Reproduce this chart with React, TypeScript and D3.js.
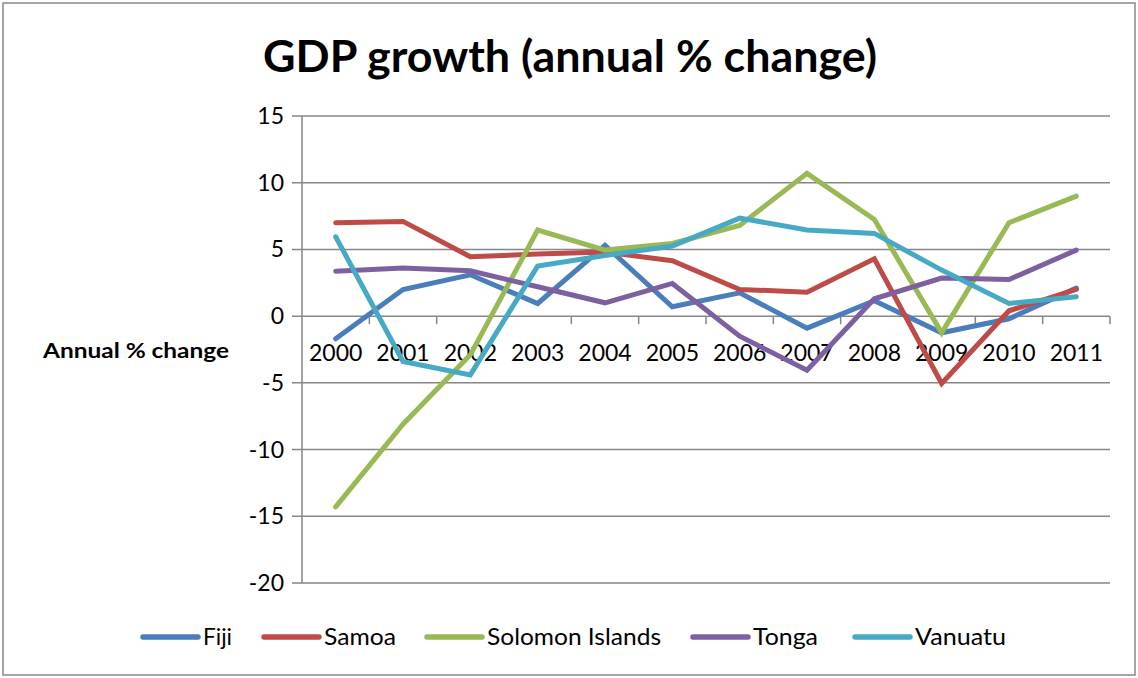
import React from "react";
import * as d3 from "d3";

const years = ["2000","2001","2002","2003","2004","2005","2006","2007","2008","2009","2010","2011"];
const fiji = [-1.7, 2.0, 3.1, 0.95, 5.3, 0.7, 1.75, -0.9, 1.15, -1.25, -0.2, 2.1];
const samoa = [7.0, 7.1, 4.45, 4.65, 4.8, 4.15, 2.0, 1.8, 4.3, -5.05, 0.4, 2.0];
const solomon = [-14.3, -8.1, -2.9, 6.45, 4.95, 5.45, 6.8, 10.7, 7.25, -1.25, 7.0, 9.0];
const tonga = [3.37, 3.6, 3.4, 2.2, 1.0, 2.45, -1.5, -4.05, 1.3, 2.85, 2.75, 4.95];
const vanuatu = [5.95, -3.4, -4.4, 3.75, 4.55, 5.25, 7.35, 6.45, 6.2, 3.45, 0.95, 1.45];
const yTicks = [15, 10, 5, 0, -5, -10, -15, -20];

const seriesNames = ["Fiji", "Samoa", "Solomon Islands", "Tonga", "Vanuatu"];
const seriesValues = [fiji, samoa, solomon, tonga, vanuatu];
const colors = ["#4A7EBB", "#BE4B48", "#98B954", "#7D60A0", "#46AAC5"];

export default function App() {
  const W = 1138, H = 678;
  const left = 302, right = 1110, top = 116, bottom = 583;
  const x = d3.scaleBand<string>().domain(years).range([left, right]);
  const y = d3.scaleLinear().domain([-20, 15]).range([bottom, top]);
  const line = d3.line<number>()
    .x((_, i) => (x(years[i]) as number) + x.bandwidth() / 2)
    .y((d) => y(d));
  const font = "Lato, 'Open Sans', sans-serif";
  const legendLineX = [143, 264, 427, 693, 855];
  const legendTextW = [29, 72, 174, 65, 91];
  const gridColor = "#868686";
  return (
    <div style={{ position: "absolute", left: 0, top: 0 }}>
      <svg width={W} height={H} style={{ display: "block" }}>
        <rect x={0} y={0} width={W} height={H} fill="#fff" />
        <rect x={3} y={3} width={W - 6} height={H - 6} fill="none" stroke="#888" strokeWidth={1.5} />
        <text x={263} y={72} fontFamily={font} fontWeight="bold" fontSize={44} fill="#000"
          textLength={614} lengthAdjust="spacingAndGlyphs">
          GDP growth (annual % change)
        </text>
        {yTicks.map((t) => (
          <g key={t}>
            <line x1={left - 10} x2={right} y1={y(t)} y2={y(t)} stroke={gridColor} strokeWidth={1.5} />
            <text x={284} y={y(t) + 8} textAnchor="end" fontFamily={font} fontSize={23} fill="#000">
              {t}
            </text>
          </g>
        ))}
        <line x1={left} x2={left} y1={top} y2={bottom} stroke={gridColor} strokeWidth={1.5} />
        {years.map((yr) => (
          <g key={yr}>
            <line
              x1={(x(yr) as number) + x.bandwidth()}
              x2={(x(yr) as number) + x.bandwidth()}
              y1={y(0)}
              y2={y(0) + 8}
              stroke={gridColor}
              strokeWidth={1.5}
            />
            <text
              x={(x(yr) as number) + x.bandwidth() / 2}
              y={361}
              textAnchor="middle"
              fontFamily={font}
              fontSize={23}
              fill="#000"
            >
              {yr}
            </text>
          </g>
        ))}
        <text x={43} y={358} fontFamily={font} fontWeight="bold" fontSize={21} fill="#000"
          textLength={186} lengthAdjust="spacingAndGlyphs">
          Annual % change
        </text>
        {seriesValues.map((vals, i) => (
          <path
            key={seriesNames[i]}
            d={line(vals) as string}
            fill="none"
            stroke={colors[i]}
            strokeWidth={5}
            strokeLinejoin="miter"
            strokeLinecap="round"
          />
        ))}
        {seriesNames.map((n, i) => (
          <g key={n}>
            <line x1={legendLineX[i]} x2={legendLineX[i] + 55} y1={637} y2={637} stroke={colors[i]} strokeWidth={5.5} strokeLinecap="round" />
            <text x={legendLineX[i] + 60} y={645} fontFamily={font} fontSize={24} fill="#000"
              textLength={legendTextW[i]} lengthAdjust="spacingAndGlyphs">
              {n}
            </text>
          </g>
        ))}
      </svg>
    </div>
  );
}
